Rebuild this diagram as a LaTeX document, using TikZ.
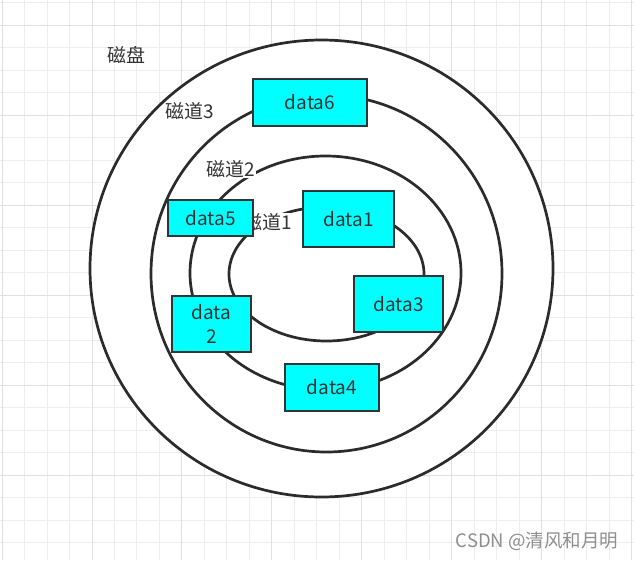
\documentclass[tikz,border=0pt]{standalone}
\usepackage{fontspec}
\setmainfont{Noto Sans CJK SC}
\definecolor{cyanfill}{HTML}{00FFFF}
\definecolor{edge}{HTML}{2B2B2B}
\definecolor{boxedge}{HTML}{2F3437}
\definecolor{txt}{HTML}{333333}
\definecolor{gridminor}{HTML}{EDEDED}
\definecolor{gridmajor}{HTML}{E0E0E0}
\definecolor{wm}{HTML}{8E8E8E}
\tikzset{
  ring/.style={draw=edge, line width=2.7pt},
  databox/.style={draw=boxedge, line width=2.2pt, fill=cyanfill, inner sep=0pt,
    text=txt, font=\fontsize{19pt}{24pt}\selectfont, align=center},
  tracklabel/.style={text=txt, font=\fontsize{19pt}{22pt}\selectfont, inner sep=0.5pt},
  gminor/.style={draw=gridminor, line width=1pt},
  gmajor/.style={draw=gridmajor, line width=1pt}
}
\begin{document}
\begin{tikzpicture}[x=1pt,y=-1pt]
\useasboundingbox (0,0) rectangle (634,560);
\fill[white] (0,0) rectangle (634,560);
% grid
\foreach \k in {0,...,28} {
  \pgfmathsetmacro\gx{2.04+22.49*\k}
  \draw[gminor] (\gx,0) -- (\gx,560);
}
\foreach \k in {0,...,24} {
  \pgfmathsetmacro\gy{2.5+22.5*\k}
  \draw[gminor] (0,\gy) -- (634,\gy);
}
\foreach \k in {0,4,...,28} {
  \pgfmathsetmacro\gx{2.04+22.49*\k}
  \draw[gmajor] (\gx,0) -- (\gx,560);
}
\foreach \k in {1,5,...,24} {
  \pgfmathsetmacro\gy{2.5+22.5*\k}
  \draw[gmajor] (0,\gy) -- (634,\gy);
}
% rings
\draw[ring, fill=white] (321.5,268.5) ellipse [x radius=231.5, y radius=228.5];
\draw[ring] (326.5,273.5) ellipse [x radius=175.5, y radius=178.5];
\draw[ring] (325.5,273) ellipse [x radius=135.5, y radius=117];
\draw[ring] (326.5,274) ellipse [x radius=97.5, y radius=67];
% labels
\node[tracklabel] (disk) at (126,55) {磁盘};
\node[tracklabel, fill=white] (t3) at (190,111) {磁道3};
\node[tracklabel, fill=white] (t2) at (231,169) {磁道2};
\node[tracklabel, fill=white] (t1) at (268,222) {磁道1};
% data boxes
\node[databox, minimum width=114, minimum height=47] (d6) at (310,102.5) {data6};
\node[databox, minimum width=85, minimum height=36] (d5) at (210.5,218) {data5};
\node[databox, minimum width=91, minimum height=56] (d1) at (348.5,219) {data1};
\node[databox, minimum width=89, minimum height=56] (d3) at (398.5,304) {data3};
\node[databox, minimum width=79, minimum height=56] (d2) at (211.5,324) {data\\2};
\node[databox, minimum width=94, minimum height=47] (d4) at (332,387.5) {data4};
% watermark
\node[text=wm, font=\fontsize{18.5pt}{20pt}\selectfont, inner sep=0pt] (wmk) at (537,541) {CSDN @清风和月明};
\end{tikzpicture}
\end{document}
